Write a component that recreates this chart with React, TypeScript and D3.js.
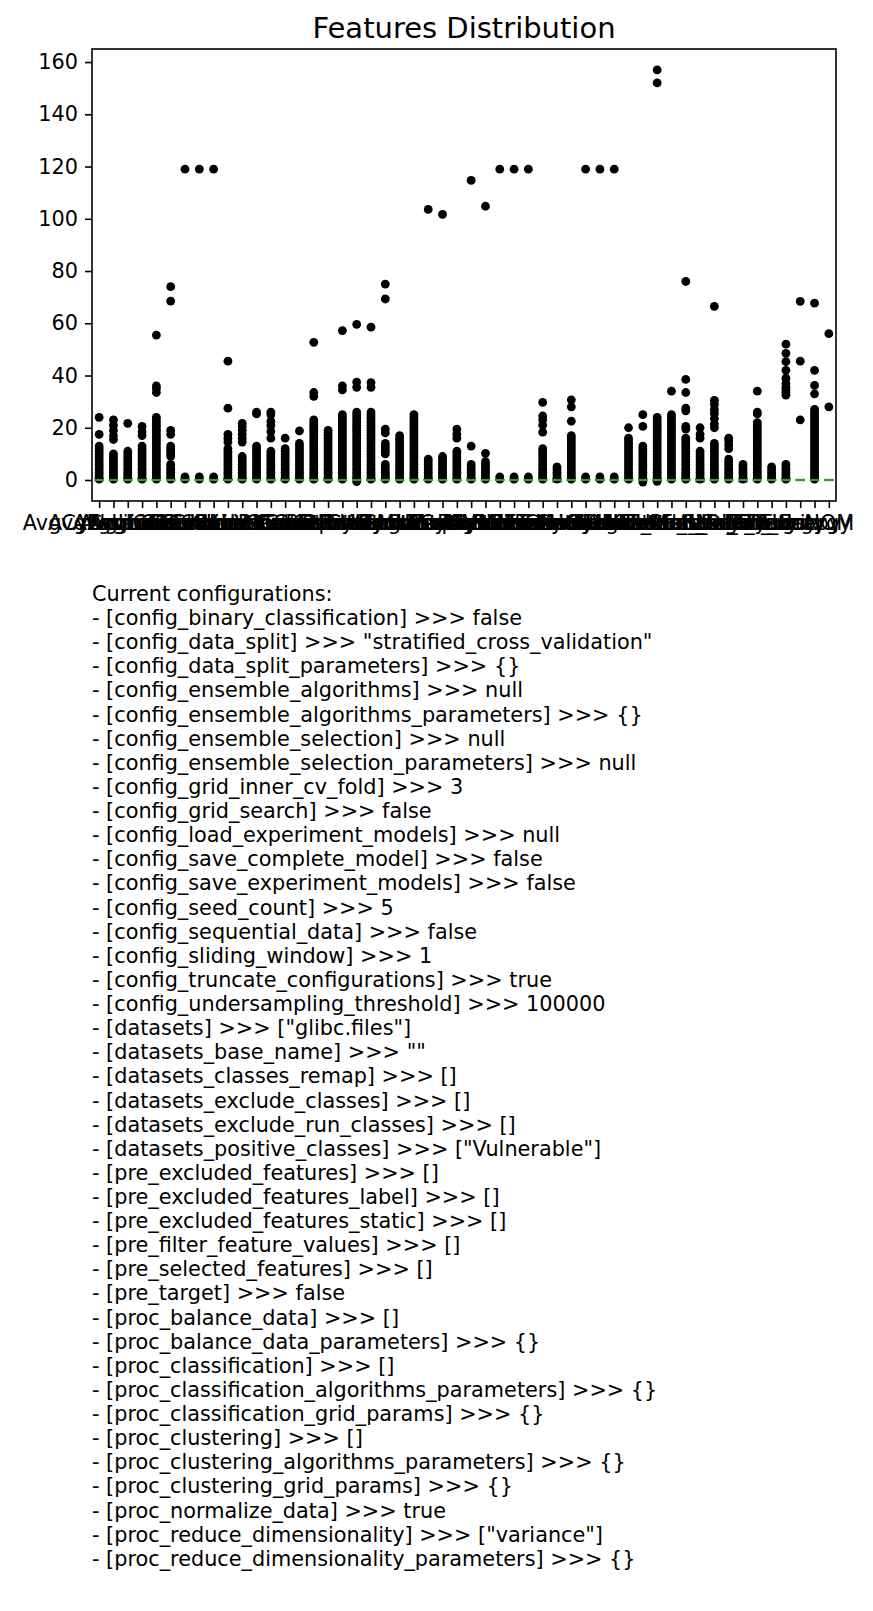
import { useRef, useEffect } from "react";
import * as d3 from "d3";

const features = [
  "AvgCyclomatic", "AvgEssential", "AvgLine", "AvgLineBlank", "AvgLineCode", "AvgLineComment",
  "CountDeclFunction", "CountLine", "CountLineBlank", "CountLineCode", "CountLineCodeDecl",
  "CountLineCodeExe", "CountLineComment", "CountLineInactive", "CountLinePreprocessor", "CountPath",
  "CountPathLog", "CountSemicolon", "CountStmt", "CountStmtDecl", "CountStmtEmpty", "CountStmtExe",
  "Cyclomatic", "CyclomaticModified", "CyclomaticStrict", "Essential", "Knots", "MaxCyclomatic",
  "MaxCyclomaticModified", "MaxCyclomaticStrict", "MaxEssential", "MaxEssentialKnots", "MaxNesting",
  "MinEssentialKnots", "RatioCommentToCode", "SumCyclomatic", "SumCyclomaticModified",
  "SumCyclomaticStrict", "SumEssential", "Halstead_Vocabulary", "Halstead_Length",
  "Halstead_Volume", "Halstead_Difficulty", "Halstead_Effort", "Halstead_Bugs", "Fan_in_Strategy",
  "Fan_in", "Fan_out", "Density", "Entropy", "Energy", "NOM",
];

// outliers per feature (the boxes themselves collapse onto 0)
const fliers: number[][] = [
  [0.3, 1, 2, 3, 4, 5, 6, 7, 8, 9, 10, 11, 12, 13, 17.5, 24],
  [0.3, 1, 2, 3, 4, 5, 6, 7, 8, 9, 10, 15.5, 17, 19, 21, 23],
  [0.3, 1, 2, 3, 4, 5, 6, 7, 8, 9, 10, 11, 21.7],
  [0.3, 1, 2, 3, 4, 5, 6, 7, 8, 9, 10, 11, 12, 13, 17, 18.5, 20.5],
  [0.3, 1, 2, 3, 4, 5, 6, 7, 8, 9, 10, 11, 12, 13, 14, 15, 16, 17, 18, 19, 20, 21, 22, 23, 24, 33.5, 35, 36, 55.5],
  [0.3, 1, 2, 3, 4, 5, 6, 9, 10, 11, 12, 13, 17.5, 19, 68.5, 74],
  [0.3, 1.2, 119],
  [0.3, 1.2, 119],
  [0.3, 1.2, 119],
  [0.3, 1, 2, 3, 4, 5, 6, 7, 8, 9, 10, 11, 12, 14.5, 16, 17.5, 27.5, 45.5],
  [0.3, 1, 2, 3, 4, 5, 6, 7, 8, 9, 14.5, 16, 17.5, 19, 20.5, 21.7],
  [0.3, 1, 2, 3, 4, 5, 6, 7, 8, 9, 10, 11, 12, 13, 25.3, 26],
  [0.3, 1, 2, 3, 4, 5, 6, 7, 8, 9, 10, 11, 16, 18.5, 20.8, 22.5, 25, 26],
  [0.3, 1, 2, 3, 4, 5, 6, 7, 8, 9, 10, 11, 12, 16],
  [0.3, 1, 2, 3, 4, 5, 6, 7, 8, 9, 10, 11, 12, 13, 14, 18.8],
  [0.3, 1, 2, 3, 4, 5, 6, 7, 8, 9, 10, 11, 12, 13, 14, 15, 16, 17, 18, 19, 20, 21, 22, 23, 32, 33.5, 52.7],
  [0.3, 1, 2, 3, 4, 5, 6, 7, 8, 9, 10, 11, 12, 13, 14, 15, 16, 17, 18, 19],
  [0.3, 1, 2, 3, 4, 5, 6, 7, 8, 9, 10, 11, 12, 13, 14, 15, 16, 17, 18, 19, 20, 21, 22, 23, 24, 25, 34.5, 36, 57.2],
  [-0.6, 0.3, 1, 2, 3, 4, 5, 6, 7, 8, 9, 10, 11, 12, 13, 14, 15, 16, 17, 18, 19, 20, 21, 22, 23, 24, 25, 26, 35.5, 37.5, 59.6],
  [0.3, 1, 2, 3, 4, 5, 6, 7, 8, 9, 10, 11, 12, 13, 14, 15, 16, 17, 18, 19, 20, 21, 22, 23, 24, 25, 26, 35.5, 37.3, 58.5],
  [0.3, 1, 2, 3, 4, 5, 6, 10, 11, 12, 13, 14, 18, 19.5, 69.3, 75],
  [0.3, 1, 2, 3, 4, 5, 6, 7, 8, 9, 10, 11, 12, 13, 14, 15, 16, 17],
  [0.3, 1, 2, 3, 4, 5, 6, 7, 8, 9, 10, 11, 12, 13, 14, 15, 16, 17, 18, 19, 20, 21, 22, 23, 24, 25],
  [0.3, 1, 2, 3, 4, 5, 6, 7, 8, 103.6],
  [0.3, 1, 2, 3, 4, 5, 6, 7, 8, 9, 101.7],
  [0.3, 1, 2, 3, 4, 5, 6, 7, 8, 9, 10, 11, 16, 17.5, 19.5],
  [0.3, 1, 2, 3, 4, 5, 6, 13, 114.7],
  [0.3, 1, 2, 3, 4, 5, 6, 7, 10.2, 104.8],
  [0.3, 1.2, 119],
  [0.3, 1.2, 119],
  [0.3, 1.2, 119],
  [0.3, 1, 2, 3, 4, 5, 6, 7, 8, 9, 10, 11, 12, 18.3, 21, 23, 24.5, 29.7],
  [0.3, 1, 2, 3, 4, 5],
  [0.3, 1, 2, 3, 4, 5, 6, 7, 8, 9, 10, 11, 12, 13, 14, 15, 16, 17, 22.5, 28, 30.7],
  [0.3, 1.2, 119],
  [0.3, 1.2, 119],
  [0.3, 1.2, 119],
  [0.3, 1, 2, 3, 4, 5, 6, 7, 8, 9, 10, 11, 12, 13, 14, 15, 16, 20],
  [-0.8, 0.3, 1, 2, 3, 4, 5, 6, 7, 8, 9, 10, 11, 12, 13, 20.5, 25],
  [-0.5, 0.3, 1, 2, 3, 4, 5, 6, 7, 8, 9, 10, 11, 12, 13, 14, 15, 16, 17, 18, 19, 20, 21, 22, 23, 24, 152, 157],
  [0.3, 1, 2, 3, 4, 5, 6, 7, 8, 9, 10, 11, 12, 13, 14, 15, 16, 17, 18, 19, 20, 21, 22, 23, 24, 25, 34],
  [0.3, 1, 2, 3, 4, 5, 6, 7, 8, 9, 10, 11, 12, 13, 14, 15, 16, 19.5, 20.5, 26.5, 27.5, 33.5, 38.5, 76],
  [0.3, 1, 2, 3, 4, 5, 6, 7, 8, 9, 10, 11, 16, 17.5, 20],
  [0.3, 1, 2, 3, 4, 5, 6, 7, 8, 9, 10, 11, 12, 13, 14, 20, 21.5, 23.5, 25.5, 27, 29, 30.5, 66.5],
  [0.3, 1, 2, 3, 4, 5, 6, 7, 8, 12, 13.5, 15, 16],
  [0.3, 1, 2, 3, 4, 5, 6],
  [0.3, 1, 2, 3, 4, 5, 6, 7, 8, 9, 10, 11, 12, 13, 14, 15, 16, 17, 18, 19, 20, 21, 22, 25.3, 26, 34],
  [0.3, 1, 2, 3, 4, 5],
  [0.3, 1, 2, 3, 4, 5, 6, 32.5, 33.5, 34.5, 35.5, 37, 39, 42, 45.3, 48.5, 52],
  [23, 45.5, 68.4],
  [0.3, 1, 2, 3, 4, 5, 6, 7, 8, 9, 10, 11, 12, 13, 14, 15, 16, 17, 18, 19, 20, 21, 22, 23, 24, 25, 26, 27, 33, 36.2, 42, 67.7],
  [28, 56],
];

// lower quartile per feature (median is 0 everywhere, upper quartile 0)
const lowerQuartiles = [
  0, 0, 0, 0, 0, 0, 0, 0, 0, 0, 0, 0, 0, 0, 0, 0, 0, 0, 0, 0, 0, 0, 0, 0, 0, 0,
  0, 0, 0, 0, 0, 0, -0.6, 0, 0, 0, 0, 0, 0, 0, 0, 0, -0.6, 0, 0, -0.6, 0, 0, 0, 0, 0, 0,
];
const median = 0;

const yTicks = [0, 20, 40, 60, 80, 100, 120, 140, 160];

const configLines = [
  "Current configurations:",
  "- [config_binary_classification] >>> false",
  '- [config_data_split] >>> "stratified_cross_validation"',
  "- [config_data_split_parameters] >>> {}",
  "- [config_ensemble_algorithms] >>> null",
  "- [config_ensemble_algorithms_parameters] >>> {}",
  "- [config_ensemble_selection] >>> null",
  "- [config_ensemble_selection_parameters] >>> null",
  "- [config_grid_inner_cv_fold] >>> 3",
  "- [config_grid_search] >>> false",
  "- [config_load_experiment_models] >>> null",
  "- [config_save_complete_model] >>> false",
  "- [config_save_experiment_models] >>> false",
  "- [config_seed_count] >>> 5",
  "- [config_sequential_data] >>> false",
  "- [config_sliding_window] >>> 1",
  "- [config_truncate_configurations] >>> true",
  "- [config_undersampling_threshold] >>> 100000",
  '- [datasets] >>> ["glibc.files"]',
  '- [datasets_base_name] >>> ""',
  "- [datasets_classes_remap] >>> []",
  "- [datasets_exclude_classes] >>> []",
  "- [datasets_exclude_run_classes] >>> []",
  '- [datasets_positive_classes] >>> ["Vulnerable"]',
  "- [pre_excluded_features] >>> []",
  "- [pre_excluded_features_label] >>> []",
  "- [pre_excluded_features_static] >>> []",
  "- [pre_filter_feature_values] >>> []",
  "- [pre_selected_features] >>> []",
  "- [pre_target] >>> false",
  "- [proc_balance_data] >>> []",
  "- [proc_balance_data_parameters] >>> {}",
  "- [proc_classification] >>> []",
  "- [proc_classification_algorithms_parameters] >>> {}",
  "- [proc_classification_grid_params] >>> {}",
  "- [proc_clustering] >>> []",
  "- [proc_clustering_algorithms_parameters] >>> {}",
  "- [proc_clustering_grid_params] >>> {}",
  "- [proc_normalize_data] >>> true",
  '- [proc_reduce_dimensionality] >>> ["variance"]',
  "- [proc_reduce_dimensionality_parameters] >>> {}",
];

const W = 873;
const H = 1611;
const FONT = "DejaVu Sans, sans-serif";

const App = () => {
  const svgRef = useRef<SVGSVGElement>(null);

  useEffect(() => {
    const svg = d3.select(svgRef.current);
    svg.selectAll("*").remove();

    const left = 92, right = 836, top = 49, bottom = 501;
    const n = features.length;

    const x = d3.scaleLinear().domain([0.5, n + 0.5]).range([left, right]);
    const y = d3.scaleLinear().domain([-8.04, 165]).range([bottom, top]);
    const halfBox = x(1.25) - x(1);

    // title
    svg.append("text")
      .attr("x", (left + right) / 2)
      .attr("y", 38)
      .attr("text-anchor", "middle")
      .style("font-family", FONT)
      .style("font-size", "29px")
      .text("Features Distribution");

    // boxes (collapsed)
    const boxes = svg.append("g");
    features.forEach((f, i) => {
      const cx = x(i + 1);
      const q1 = lowerQuartiles[i];
      boxes.append("rect")
        .attr("x", cx - halfBox)
        .attr("y", y(median))
        .attr("width", halfBox * 2)
        .attr("height", Math.max(0.01, y(q1) - y(median)))
        .attr("fill", "none")
        .attr("stroke", "#1f77b4")
        .attr("stroke-width", 2.2);
    });

    // fliers
    const pts = svg.append("g");
    fliers.forEach((vals, i) => {
      pts.selectAll(null)
        .data(vals)
        .enter()
        .append("circle")
        .attr("cx", x(i + 1))
        .attr("cy", (d) => y(d))
        .attr("r", 4.4)
        .attr("fill", "black");
    });

    // medians
    svg.append("g")
      .selectAll("line")
      .data(features)
      .enter()
      .append("line")
      .attr("x1", (d, i) => x(i + 1) - halfBox)
      .attr("x2", (d, i) => x(i + 1) + halfBox)
      .attr("y1", y(median))
      .attr("y2", y(median))
      .attr("stroke", "#2ca02c")
      .attr("stroke-width", 2.2)
      .attr("stroke-linecap", "square");

    // axes
    const yAxis = svg.append("g")
      .attr("transform", `translate(${left},0)`)
      .call(d3.axisLeft(y).tickValues(yTicks).tickSize(7).tickPadding(7));
    const xAxis = svg.append("g")
      .attr("transform", `translate(0,${bottom})`)
      .call(
        d3.axisBottom(x)
          .tickValues(d3.range(1, n + 1))
          .tickFormat((d) => features[(d as number) - 1])
          .tickSize(7)
          .tickPadding(7)
      );
    [yAxis, xAxis].forEach((a) => {
      a.select(".domain").remove();
      a.selectAll("line").attr("stroke", "black").attr("stroke-width", 1.6);
      a.selectAll("text")
        .attr("fill", "black")
        .style("font-family", FONT)
        .style("font-size", "20.8px");
    });

    // frame
    svg.append("rect")
      .attr("x", left)
      .attr("y", top)
      .attr("width", right - left)
      .attr("height", bottom - top)
      .attr("fill", "none")
      .attr("stroke", "black")
      .attr("stroke-width", 1.6);

    // configuration text
    svg.append("g")
      .selectAll("text")
      .data(configLines)
      .enter()
      .append("text")
      .attr("x", left)
      .attr("y", (d, i) => 601 + i * 24.12)
      .style("font-family", FONT)
      .style("font-size", "20.8px")
      .attr("fill", "black")
      .text((d) => d);
  }, []);

  return (
    <svg
      ref={svgRef}
      width={W}
      height={H}
      style={{ position: "absolute", left: 0, top: 0, background: "white" }}
    />
  );
};

export default App;
